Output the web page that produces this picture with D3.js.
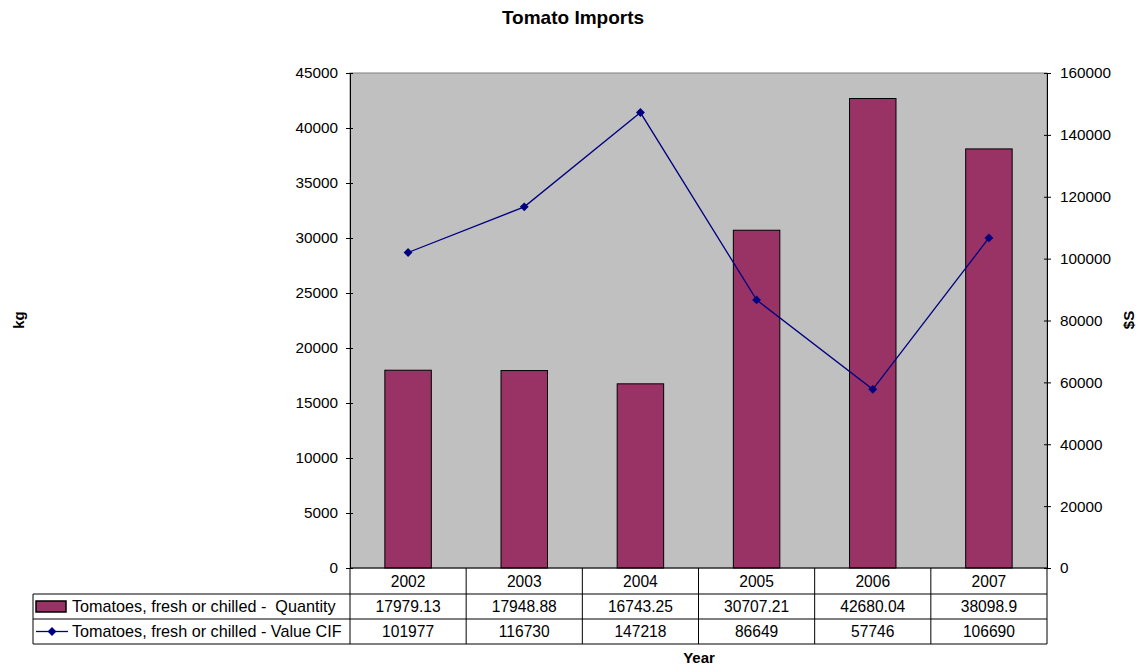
<!DOCTYPE html>
<html>
<head>
<meta charset="utf-8">
<script src="https://cdn.jsdelivr.net/npm/d3@7"></script>
<style>
  html, body { margin: 0; padding: 0; background: #fff; }
  svg { display: block; font-family: Arial, "Liberation Sans", sans-serif; }
</style>
</head>
<body>
<svg id="chart" width="1141" height="666"></svg>
<script>
// Tomato imports by year: quantity (kg, bars) and value CIF ($S, line)
const years = ["2002", "2003", "2004", "2005", "2006", "2007"];
const quantity = [17979.13, 17948.88, 16743.25, 30707.21, 42680.04, 38098.9];
const valueCIF = [101977, 116730, 147218, 86649, 57746, 106690];
const quantityLabels = ["17979.13", "17948.88", "16743.25", "30707.21", "42680.04", "38098.9"];
const valueLabels = ["101977", "116730", "147218", "86649", "57746", "106690"];
const leftTicks = [0, 5000, 10000, 15000, 20000, 25000, 30000, 35000, 40000, 45000];
const rightTicks = [0, 20000, 40000, 60000, 80000, 100000, 120000, 140000, 160000];
const seriesNames = ["Tomatoes, fresh or chilled -  Quantity", "Tomatoes, fresh or chilled - Value CIF"];

const svg = d3.select("#chart");
const plot = { left: 350, right: 1047, top: 73, bottom: 568 };
const rowBottoms = [594, 619, 644];
const legendLeft = 33;

const x = d3.scaleBand().domain(years).range([plot.left, plot.right])
  .paddingInner(0.6).paddingOuter(0.3);
const xStep = x.step();
const xCenter = d => x(d) + x.bandwidth() / 2;
const cellLeft = (d, i) => plot.left + i * xStep;
const yL = d3.scaleLinear().domain([0, 45000]).range([plot.bottom, plot.top]);
const yR = d3.scaleLinear().domain([0, 160000]).range([plot.bottom, plot.top]);

// plot area background
svg.append("rect")
  .attr("x", plot.left).attr("y", plot.top)
  .attr("width", plot.right - plot.left).attr("height", plot.bottom - plot.top)
  .attr("fill", "#c0c0c0").attr("stroke", "#808080").attr("stroke-width", 1);

// bars
svg.append("g").selectAll("rect").data(years).join("rect")
  .attr("x", d => x(d))
  .attr("y", (d, i) => yL(quantity[i]))
  .attr("width", x.bandwidth())
  .attr("height", (d, i) => plot.bottom - yL(quantity[i]))
  .attr("fill", "#993366").attr("stroke", "#000").attr("stroke-width", 1);

// line series
const line = d3.line().x((d, i) => xCenter(years[i])).y(d => yR(d));
svg.append("path").datum(valueCIF)
  .attr("d", line).attr("fill", "none")
  .attr("stroke", "#000080").attr("stroke-width", 1.3);

const diamond = d3.symbol().type(d3.symbolDiamond2 || d3.symbolDiamond).size(50);
svg.append("g").selectAll("path").data(valueCIF).join("path")
  .attr("transform", (d, i) => `translate(${xCenter(years[i])},${yR(d)})`)
  .attr("d", diamond).attr("fill", "#000080");

// axes
const leftAxis = d3.axisLeft(yL).tickValues(leftTicks).tickFormat(d3.format("d"))
  .tickSizeInner(4).tickSizeOuter(0).tickPadding(8);
const gL = svg.append("g").attr("transform", `translate(${plot.left},0)`).call(leftAxis);
const rightAxis = d3.axisRight(yR).tickValues(rightTicks).tickFormat(d3.format("d"))
  .tickSizeInner(4).tickSizeOuter(0).tickPadding(9);
const gR = svg.append("g").attr("transform", `translate(${plot.right},0)`).call(rightAxis);
[gL, gR].forEach(g => {
  g.selectAll(".domain").attr("stroke", "#000");
  g.selectAll(".tick line").attr("stroke", "#000").attr("x1", function () {
    return g === gL ? 3 : -3;
  });
  g.selectAll("text").attr("font-size", 15.3).attr("fill", "#000")
    .attr("font-family", "Arial, 'Liberation Sans', sans-serif");
});

// bottom axis line
svg.append("line")
  .attr("x1", plot.left).attr("x2", plot.right)
  .attr("y1", plot.bottom).attr("y2", plot.bottom)
  .attr("stroke", "#000");

// data table
const table = svg.append("g").attr("stroke", "#000").attr("stroke-width", 1);
// vertical lines between year columns
d3.range(years.length + 1).forEach(i => {
  table.append("line")
    .attr("x1", plot.left + i * xStep).attr("x2", plot.left + i * xStep)
    .attr("y1", plot.bottom).attr("y2", rowBottoms[2]);
});
// horizontal rules
rowBottoms.forEach(yy => {
  table.append("line").attr("x1", legendLeft).attr("x2", plot.right)
    .attr("y1", yy).attr("y2", yy);
});
table.append("line").attr("x1", legendLeft).attr("x2", legendLeft)
  .attr("y1", rowBottoms[0]).attr("y2", rowBottoms[2]);

const rowMid = [ (plot.bottom + rowBottoms[0]) / 2, (rowBottoms[0] + rowBottoms[1]) / 2, (rowBottoms[1] + rowBottoms[2]) / 2 ];
const cellText = (arr, row) => svg.append("g").selectAll("text").data(arr).join("text")
  .attr("x", (d, i) => cellLeft(d, i) + xStep / 2)
  .attr("y", rowMid[row])
  .attr("dy", "0.36em")
  .attr("text-anchor", "middle")
  .attr("font-size", 15.6)
  .text(d => d);
cellText(years, 0);
cellText(quantityLabels, 1);
cellText(valueLabels, 2);

// legend keys
svg.append("rect")
  .attr("x", 36).attr("y", rowMid[1] - 5.5).attr("width", 30).attr("height", 11)
  .attr("fill", "#993366").attr("stroke", "#000").attr("stroke-width", 1.5);
svg.append("line")
  .attr("x1", 36).attr("x2", 68).attr("y1", rowMid[2]).attr("y2", rowMid[2])
  .attr("stroke", "#000080").attr("stroke-width", 1.3);
svg.append("path")
  .attr("transform", `translate(52,${rowMid[2]})`)
  .attr("d", diamond).attr("fill", "#000080");
svg.append("g").selectAll("text").data(seriesNames).join("text")
  .attr("x", 72).attr("y", (d, i) => rowMid[i + 1]).attr("dy", "0.36em")
  .attr("font-size", 16.2).attr("xml:space", "preserve")
  .style("white-space", "pre")
  .text(d => d);

// titles
svg.append("text").attr("x", 573).attr("y", 24)
  .attr("text-anchor", "middle").attr("font-size", 19).attr("font-weight", "bold")
  .text("Tomato Imports");
svg.append("text").attr("x", 699).attr("y", 663)
  .attr("text-anchor", "middle").attr("font-size", 15).attr("font-weight", "bold")
  .text("Year");
svg.append("text").attr("transform", "translate(24,320) rotate(-90)")
  .attr("text-anchor", "middle").attr("font-size", 15).attr("font-weight", "bold")
  .text("kg");
svg.append("text").attr("transform", "translate(1134,320) rotate(-90)")
  .attr("text-anchor", "middle").attr("font-size", 15).attr("font-weight", "bold")
  .text("$S");
</script>
</body>
</html>
